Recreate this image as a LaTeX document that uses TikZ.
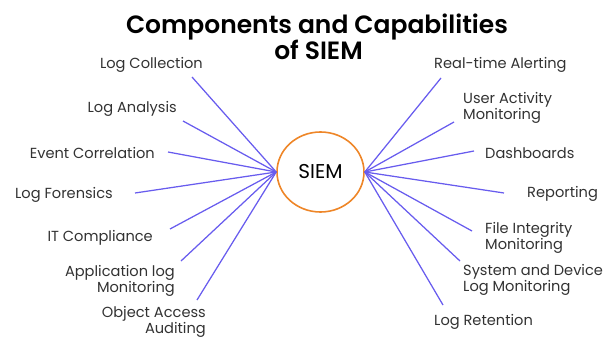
\documentclass[tikz,border=0pt]{standalone}
\usepackage{fontspec}
\setmainfont{Poppins}
\newfontfamily\ttlfont{Poppins}[UprightFont=* SemiBold]
\usetikzlibrary{shapes.geometric}
\definecolor{linec}{RGB}{104,92,238}
\definecolor{ringc}{RGB}{238,134,40}
\definecolor{labc}{RGB}{50,50,50}
\tikzset{
  lab/.style={inner sep=0pt, text=labc, font=\fontsize{14.6}{16}\selectfont, yshift=-1.8pt},
  labl/.style={lab, anchor=east, align=right},
  labr/.style={lab, anchor=west, align=left},
  spoke/.style={draw=linec, line width=1.25pt},
  ttl/.style={inner sep=0pt, anchor=base, font=\fontsize{25}{27}\ttlfont, text=black}
}
\begin{document}
\begin{tikzpicture}[x=1pt,y=-1pt]
\useasboundingbox (0,0) rectangle (606,340);
\node[ttl] (t1) at (317,33) {Components and Capabilities};
\node[ttl] (t2) at (318.5,59) {of SIEM};
\node[ellipse, draw=ringc, line width=1.6pt, minimum width=87pt, minimum height=80pt, inner sep=0pt,
  font=\fontsize{20}{22}\selectfont, text=black] (siem) at (320.5,172) {SIEM};
% left labels
\node[labl] (l1) at (203,63) {Log Collection};
\node[labl] (l2) at (177,107) {Log Analysis};
\node[labl] (l3) at (155,151) {Event Correlation};
\node[labl] (l4) at (113,193) {Log Forensics};
\node[labl] (l5) at (153,236) {IT Compliance};
\node[labl] (l6) at (175,279) {Application log\\Monitoring};
\node[labl] (l7) at (206,320) {Object Access\\Auditing};
% right labels
\node[labr] (r1) at (434,63) {Real-time Alerting};
\node[labr] (r2) at (463,106) {User Activity\\Monitoring};
\node[labr] (r3) at (485,151) {Dashboards};
\node[labr] (r4) at (527,192) {Reporting};
\node[labr] (r5) at (485,236) {File Integrity\\Monitoring};
\node[labr] (r6) at (463,278) {System and Device\\Log Monitoring};
\node[labr] (r7) at (434,320) {Log Retention};
% spoke ends
\coordinate (el1) at (192,77);
\coordinate (el2) at (183,121);
\coordinate (el3) at (168,152);
\coordinate (el4) at (135,193);
\coordinate (el5) at (170,229);
\coordinate (el6) at (181,261);
\coordinate (el7) at (197,300);
\coordinate (er1) at (441,78);
\coordinate (er2) at (454,122);
\coordinate (er3) at (474,151);
\coordinate (er4) at (504,193);
\coordinate (er5) at (472,231);
\coordinate (er6) at (460,261);
\coordinate (er7) at (443,305);
\foreach \i in {1,...,7} {
  \draw[spoke] (el\i) -- (siem.west);
  \draw[spoke] (er\i) -- (siem.east);
}
\end{tikzpicture}
\end{document}
